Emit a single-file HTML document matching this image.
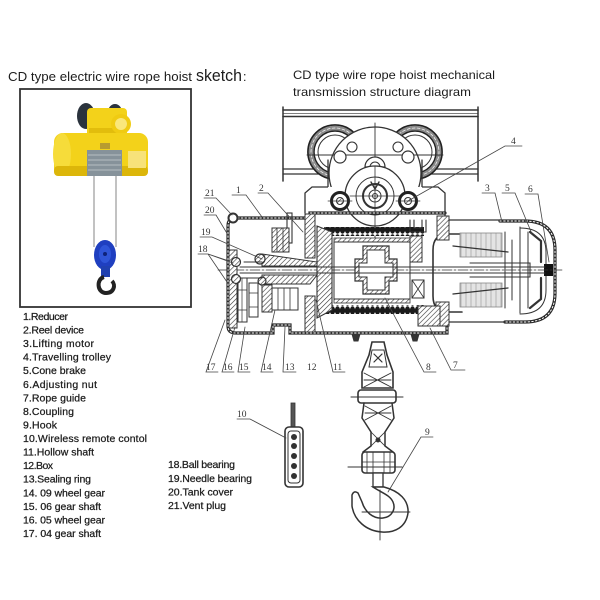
<!DOCTYPE html>
<html><head><meta charset="utf-8"><style>
html,body{margin:0;padding:0;background:#fff;}
svg{display:block;}
.t{font-family:"Liberation Sans",sans-serif;fill:#1c1c1c;}
.n{font-family:"Liberation Serif",serif;fill:#333;font-size:9.5px;}
</style></head><body>
<svg xmlns="http://www.w3.org/2000/svg" width="600" height="600" viewBox="0 0 600 600">
<defs>
 <pattern id="hatch" width="3.5" height="3.5" patternUnits="userSpaceOnUse" patternTransform="rotate(45)">
  <rect width="3.5" height="3.5" fill="#fff"/>
  <line x1="0" y1="0" x2="0" y2="3.5" stroke="#333" stroke-width="1.2"/>
 </pattern>
 <pattern id="coil" width="5" height="9" patternUnits="userSpaceOnUse">
  <rect width="5" height="9" fill="#fff"/>
  <ellipse cx="2.5" cy="4.5" rx="2.6" ry="4.2" fill="#1a1a1a"/>
 </pattern>
 <pattern id="stator" width="5" height="5" patternUnits="userSpaceOnUse">
  <rect width="5" height="5" fill="#e4e4e4"/>
  <line x1="1" y1="0" x2="1" y2="5" stroke="#a8a8a8" stroke-width="0.8"/>
 </pattern>
</defs>

<!-- LEFT TITLE -->
<text class="t" x="8" y="81" font-size="12.5" textLength="184" lengthAdjust="spacingAndGlyphs">CD type electric wire rope hoist</text>
<text class="t" x="196" y="81" font-size="17" textLength="46" lengthAdjust="spacingAndGlyphs">sketch</text>
<text class="t" x="243" y="81" font-size="12.5">:</text>

<!-- PHOTO BOX -->
<rect x="20" y="89" width="171" height="218" fill="#fff" stroke="#333" stroke-width="1.8"/>
<g>
 <line x1="94" y1="172" x2="94" y2="247" stroke="#9a9a9a" stroke-width="1.2"/>
 <line x1="116" y1="172" x2="116" y2="247" stroke="#9a9a9a" stroke-width="1.2"/>
 <ellipse cx="86" cy="116" rx="9" ry="13" fill="#2b333d"/>
 <ellipse cx="115" cy="112" rx="7" ry="8" fill="#2b333d"/>
 <rect x="87" y="108" width="40" height="34" rx="4" fill="#f3d21a"/>
 <rect x="89" y="128" width="36" height="10" fill="#e2bd0c"/>
 <circle cx="121" cy="124" r="10" fill="#f0cb12"/>
 <circle cx="121" cy="124" r="6" fill="#fae77a"/>
 <rect x="54" y="133" width="94" height="43" rx="9" fill="#f3d21a"/>
 <ellipse cx="62" cy="154" rx="9" ry="21" fill="#f6dc3a"/>
 <rect x="54" y="166" width="94" height="10" rx="4" fill="#dcb60a"/>
 <rect x="87" y="150" width="35" height="26" fill="#86929a"/>
 <path d="M88 155H121M88 160H121M88 165H121M88 170H121" stroke="#b5bec3" stroke-width="1"/>
 <rect x="128" y="151" width="18" height="17" fill="#f7e27a"/>
 <rect x="100" y="143" width="10" height="6" fill="#b89b30"/>
 <ellipse cx="105" cy="255" rx="11" ry="15" fill="#1f3fc0"/>
 <ellipse cx="105" cy="254" rx="6" ry="9" fill="#2f55d8"/>
 <circle cx="105" cy="254" r="2" fill="#0e237a"/>
 <rect x="101" y="266" width="9" height="11" fill="#2040b0"/>
 <path d="M104 277 C96 279 97 293 106 293 C114 293 116 285 112 281" fill="none" stroke="#222" stroke-width="4"/>
</g>

<!-- LEGEND -->
<g class="t" font-size="10.5" stroke="#1c1c1c" stroke-width="0.25">
 <text x="23" y="320" textLength="45" lengthAdjust="spacing">1.Reducer</text>
 <text x="23" y="333.6" textLength="61" lengthAdjust="spacing">2.Reel device</text>
 <text x="23" y="347.1" textLength="71" lengthAdjust="spacing">3.Lifting motor</text>
 <text x="23" y="360.7" textLength="88" lengthAdjust="spacing">4.Travelling trolley</text>
 <text x="23" y="374.2" textLength="63" lengthAdjust="spacing">5.Cone brake</text>
 <text x="23" y="387.8" textLength="74" lengthAdjust="spacing">6.Adjusting nut</text>
 <text x="23" y="401.4" textLength="63" lengthAdjust="spacing">7.Rope guide</text>
 <text x="23" y="414.9" textLength="51" lengthAdjust="spacing">8.Coupling</text>
 <text x="23" y="428.5" textLength="34" lengthAdjust="spacing">9.Hook</text>
 <text x="23" y="442" textLength="124" lengthAdjust="spacing">10.Wireless remote contol</text>
 <text x="23" y="455.6" textLength="71" lengthAdjust="spacing">11.Hollow shaft</text>
 <text x="23" y="469.2" textLength="30" lengthAdjust="spacing">12.Box</text>
 <text x="23" y="482.7" textLength="68" lengthAdjust="spacing">13.Sealing ring</text>
 <text x="23" y="496.3" textLength="82" lengthAdjust="spacing">14. 09 wheel gear</text>
 <text x="23" y="509.8" textLength="78" lengthAdjust="spacing">15. 06 gear shaft</text>
 <text x="23" y="523.4" textLength="82" lengthAdjust="spacing">16. 05 wheel gear</text>
 <text x="23" y="537" textLength="78" lengthAdjust="spacing">17. 04 gear shaft</text>
 <text x="168" y="468" textLength="67" lengthAdjust="spacing">18.Ball bearing</text>
 <text x="168" y="482" textLength="84" lengthAdjust="spacing">19.Needle bearing</text>
 <text x="168" y="495.5" textLength="65" lengthAdjust="spacing">20.Tank cover</text>
 <text x="168" y="509" textLength="58" lengthAdjust="spacing">21.Vent plug</text>
</g>

<!-- RIGHT TITLE -->
<text class="t" x="293" y="79" font-size="12" textLength="202" lengthAdjust="spacingAndGlyphs">CD type wire rope hoist mechanical</text>
<text class="t" x="293" y="96" font-size="12" textLength="178" lengthAdjust="spacingAndGlyphs">transmission structure diagram</text>

<!-- DIAGRAM -->
<g fill="none" stroke="#333" stroke-linecap="round">
 <!-- rail -->
 <path d="M283 107V181M478 107V181" stroke-width="1.5"/>
 <path d="M283 110H478M283 116.5H478" stroke-width="1.6"/>
 <path d="M283 113.3H478" stroke-width="0.7"/>
 <path d="M283 169H478M283 174H478" stroke-width="1.3"/>
 <!-- wheels -->
 <circle cx="335" cy="152" r="27" fill="#fff" stroke="#222" stroke-width="1.8"/>
 <circle cx="335" cy="152" r="24" stroke="#8a8a8a" stroke-width="4.5"/>
 <circle cx="335" cy="152" r="24" stroke="#fff" stroke-width="0.7" stroke-dasharray="3 2"/>
 <circle cx="335" cy="152" r="21" stroke="#222" stroke-width="1.5"/>
 <circle cx="335" cy="152" r="17" stroke-width="1"/>
 <circle cx="415" cy="152" r="27" fill="#fff" stroke="#222" stroke-width="1.8"/>
 <circle cx="415" cy="152" r="24" stroke="#8a8a8a" stroke-width="4.5"/>
 <circle cx="415" cy="152" r="24" stroke="#fff" stroke-width="0.7" stroke-dasharray="3 2"/>
 <circle cx="415" cy="152" r="21" stroke="#222" stroke-width="1.5"/>
 <circle cx="415" cy="152" r="17" stroke-width="1"/>
 <!-- trolley plate -->
 <circle cx="375" cy="173" r="46" fill="#fff" stroke-width="1.3"/>
 <path d="M305 213V193L312 187H328V160M445 213V193L438 187H422V160" stroke-width="1.3" fill="none"/>
 <path d="M328 187H422V213H328Z" fill="#fff" stroke="none"/>
 <path d="M307 155H443" stroke-width="0.9"/>
 <path d="M375 123V240" stroke-width="0.9"/>
 <circle cx="340" cy="157" r="6" fill="#fff" stroke-width="1.2"/>
 <circle cx="352" cy="147" r="5" stroke-width="1.1"/>
 <circle cx="408" cy="157" r="6" fill="#fff" stroke-width="1.2"/>
 <circle cx="398" cy="147" r="5" stroke-width="1.1"/>
 <path d="M365 167A10 10 0 0 1 385 167Z" stroke-width="1.2" fill="#fff"/>
 <path d="M370 167A5 5 0 0 1 380 167" stroke-width="1"/>
 <circle cx="375" cy="196" r="30" fill="#fff" stroke-width="1.3"/>
 <circle cx="375" cy="196" r="19" stroke-width="1"/>
 <circle cx="375" cy="196" r="12" stroke-width="2"/>
 <circle cx="375" cy="196" r="6" stroke-width="1"/>
 <circle cx="375" cy="196" r="2.5" stroke-width="1"/>
 <path d="M350 196H400M375 166V226" stroke-width="0.8"/>
 <path d="M371 182L375 189L379 182" stroke-width="1.4"/>
 <circle cx="340" cy="201" r="8.5" fill="#fff" stroke="#222" stroke-width="3"/>
 <circle cx="340" cy="201" r="3.5" fill="url(#hatch)" stroke-width="1"/>
 <circle cx="408" cy="201" r="8.5" fill="#fff" stroke="#222" stroke-width="3"/>
 <circle cx="408" cy="201" r="3.5" fill="url(#hatch)" stroke-width="1"/>
 <path d="M328 201H352M396 201H420" stroke-width="0.8"/>

 <!-- housing walls -->
 <path d="M445 213H310V218H236Q228 218 228 226V326Q228 333 236 333H273V325H290V333H447V322" stroke="#2a2a2a" stroke-width="3.2"/>
 <path d="M445 213H310V218H236Q228 218 228 226V326Q228 333 236 333H273V325H290V333H447V322" stroke="#fff" stroke-width="1" stroke-dasharray="1.5 2.2"/>
 <circle cx="233" cy="218" r="4.5" fill="#fff" stroke-width="2"/>
 <!-- motor shell -->
 <path d="M445 213V220H500" stroke-width="1.3"/>
 <path d="M500 221H525Q555 221 555 250V293Q555 322 525 322H505" stroke="#2a2a2a" stroke-width="3.2"/>
 <path d="M500 221H525Q555 221 555 250V293Q555 322 525 322H505" stroke="#fff" stroke-width="1" stroke-dasharray="1.5 2.2"/>
 <path d="M505 322H447" stroke-width="1.3"/>
 <path d="M520 228Q546 228 546 252V290Q546 314 520 314" stroke-width="1"/>
 <path d="M462 234H448Q433 234 433 250V296Q433 312 448 312H462" stroke-width="1.6"/>
 <!-- flange hatches -->
 <rect x="437" y="216" width="12" height="24" fill="url(#hatch)" stroke-width="1"/>
 <rect x="436" y="302" width="13" height="24" fill="url(#hatch)" stroke-width="1"/>
 <!-- stator -->
 <rect x="460" y="233" width="42" height="24" fill="url(#stator)" stroke="#888" stroke-width="0.8"/>
 <rect x="460" y="283" width="42" height="24" fill="url(#stator)" stroke="#888" stroke-width="0.8"/>
 <path d="M453 246L508 252M453 294L508 288" stroke-width="1.3"/>
 <path d="M505 232V308M512 240V300M520 227V313M528 232V308" stroke-width="1"/>
 <path d="M530 232L541 241V262M530 308L541 299V278" stroke-width="2.2"/>
 <rect x="544" y="264" width="9" height="12" fill="#111" stroke="none"/>
 <!-- shaft -->
 <path d="M470 263H530V277H470" stroke-width="1.1"/>
 <path d="M218 270H562" stroke-width="0.7" stroke-dasharray="10 2 2 2"/>

 <!-- drum -->
 <rect x="324" y="227" width="100" height="9" fill="url(#coil)" stroke="none"/>
 <rect x="324" y="305" width="100" height="9" fill="url(#coil)" stroke="none"/>
 <rect x="334" y="238" width="76" height="4" fill="url(#hatch)" stroke-width="0.8"/>
 <rect x="334" y="299" width="76" height="4" fill="url(#hatch)" stroke-width="0.8"/>
 <rect x="334" y="242" width="76" height="57" stroke-width="1"/>
 <path d="M317 226L332 232V310L317 318Z" fill="url(#hatch)" stroke-width="1.1"/>
 <rect x="410" y="236" width="12" height="26" fill="url(#hatch)" stroke-width="1"/>
 <rect x="412" y="280" width="12" height="18" stroke-width="1"/>
 <path d="M412 280L424 298M424 280L412 298" stroke-width="0.8"/>
 <path d="M410 220V232H426V220M414 220V228H422V220" stroke-width="1.1"/>
 <path d="M418 306H440V326H418Z" fill="url(#hatch)" stroke-width="1"/>
 <!-- coupling -->
 <path d="M363 246H389V259H397V281H389V294H363V281H355V259H363Z" fill="url(#hatch)" stroke-width="1.2"/>
 <path d="M367 250H385V263H393V277H385V290H367V277H359V263H367Z" fill="#fff" stroke-width="1"/>
 <path d="M240 267H545M240 273H545" stroke-width="1"/>
 <!-- left gear structure -->
 <rect x="287" y="213" width="5" height="30" stroke-width="1.1"/>
 <rect x="305" y="214" width="10" height="44" fill="url(#hatch)" stroke-width="1"/>
 <rect x="272" y="228" width="17" height="24" fill="url(#hatch)" stroke-width="1"/>
 <path d="M277 228V252M283 228V252" stroke-width="0.8"/>
 <path d="M262 254L317 262V266H262Z" fill="url(#hatch)" stroke-width="1"/>
 <path d="M262 275H317L310 284H262Z" fill="url(#hatch)" stroke-width="1"/>
 <rect x="262" y="285" width="10" height="27" fill="url(#hatch)" stroke-width="1"/>
 <rect x="272" y="288" width="26" height="22" stroke-width="1"/>
 <path d="M278 288V310M284 288V310M290 288V310" stroke-width="0.8"/>
 <rect x="305" y="296" width="10" height="36" fill="url(#hatch)" stroke-width="1"/>
 <rect x="229" y="250" width="8" height="78" fill="url(#hatch)" stroke-width="1"/>
 <rect x="238" y="278" width="9" height="44" stroke-width="1"/>
 <path d="M242 278V322M238 290H247M238 310H247" stroke-width="0.7"/>
 <rect x="249" y="283" width="9" height="34" stroke-width="1"/>
 <path d="M249 293H258M249 307H258" stroke-width="0.7"/>
 <circle cx="236" cy="262" r="4.5" fill="url(#hatch)" stroke-width="1.2"/>
 <circle cx="236" cy="279" r="4.5" fill="url(#hatch)" stroke-width="1.2"/>
 <circle cx="260" cy="259" r="5" fill="url(#hatch)" stroke-width="1.2"/>
 <circle cx="262" cy="281" r="4" fill="url(#hatch)" stroke-width="1.2"/>
 <path d="M244 262H262M244 278H262" stroke-width="1"/>
 <!-- feet -->
 <path d="M352 334H360L358 341H354Z" fill="#333" stroke-width="1"/>
 <path d="M411 334H419L417 341H413Z" fill="#333" stroke-width="1"/>

 <!-- hook block -->
 <path d="M372 342H384L387 355L393 372V388H362V372L369 355Z" fill="#fff" stroke-width="1.6"/>
 <path d="M372 350H384L387 367H369Z" stroke-width="1"/>
 <path d="M374 354L382 362M382 354L374 362" stroke-width="1.2"/>
 <path d="M364 373L391 387M391 373L364 387M364 380L391 380" stroke-width="0.9"/>
 <rect x="358" y="390" width="38" height="13" rx="3" fill="#fff" stroke-width="1.6"/>
 <path d="M351 397H403" stroke-width="1.1"/>
 <path d="M364 403L362 418L371 432V446L363 452M392 403L394 418L385 432V446L393 452" stroke-width="1.5"/>
 <path d="M365 406L391 420M391 406L365 420M365 413H391" stroke-width="0.9"/>
 <path d="M371 432L385 446M385 432L371 446" stroke-width="0.8"/>
 <circle cx="378" cy="440" r="2.5" fill="#333" stroke="none"/>
 <rect x="362" y="452" width="33" height="21" rx="3" fill="#fff" stroke-width="1.6"/>
 <path d="M367 452V473M373 452V473M384 452V473M390 452V473M362 462H395" stroke-width="0.8"/>
 <path d="M348 467H402" stroke-width="1.1"/>
 <rect x="373" y="473" width="10" height="14" fill="#fff" stroke-width="1.3"/>
 <path d="M384 487C399 491 409 500 408 513C406 527 395 533 382 532C366 531 354 520 352 506L352 495Q354 490 358 493L362 502C365 512 373 519 383 518C392 517 396 509 393 502C390 495 382 493 373 487Z" fill="#fff" stroke-width="1.5"/>
 <path d="M362 512H410M380 490V540" stroke-width="0.9"/>

 <!-- remote -->
 <rect x="291" y="403" width="4" height="25" fill="#555" stroke-width="0.8"/>
 <rect x="285" y="427" width="18" height="60" rx="4" fill="#fff" stroke-width="1.6"/>
 <rect x="288" y="431" width="12" height="52" rx="3" stroke-width="1"/>
 <g fill="#333" stroke="none">
  <circle cx="294" cy="437" r="3"/><circle cx="294" cy="446" r="3"/><circle cx="294" cy="456" r="3"/><circle cx="294" cy="466" r="3"/><circle cx="294" cy="476" r="3"/>
 </g>

 <!-- leader lines -->
 <g stroke-width="0.8" stroke="#444">
  <path d="M204 198H216L232 215"/>
  <path d="M204 215H216L228 235"/>
  <path d="M200 237H212L262 259"/>
  <path d="M198 254H208L229 261M208 254L233 263M208 254L227 282"/>
  <path d="M232 195H246L262 217"/>
  <path d="M258 193H268L303 232"/>
  <path d="M522 146H505L408 201"/>
  <path d="M482 193H495L502 222"/>
  <path d="M502 193H515L532 234"/>
  <path d="M525 194H538L549 262"/>
  <path d="M218 372H206L225 320"/>
  <path d="M234 372H222L235 327"/>
  <path d="M250 372H238L245 327"/>
  <path d="M273 372H261L275 310"/>
  <path d="M296 372H283L285 327"/>
  <path d="M345 372H333L316 300"/>
  <path d="M436 372H424L385 298"/>
  <path d="M465 370H451L430 328"/>
  <path d="M237 419H250L286 438"/>
  <path d="M433 437H421L388 492"/>
 </g>
</g>
<g class="n">
 <text x="205" y="196">21</text>
 <text x="205" y="213">20</text>
 <text x="201" y="235">19</text>
 <text x="198" y="252">18</text>
 <text x="236" y="193">1</text>
 <text x="259" y="191">2</text>
 <text x="511" y="144">4</text>
 <text x="485" y="191">3</text>
 <text x="505" y="191">5</text>
 <text x="528" y="192">6</text>
 <text x="206" y="370">17</text>
 <text x="223" y="370">16</text>
 <text x="239" y="370">15</text>
 <text x="262" y="370">14</text>
 <text x="285" y="370">13</text>
 <text x="307" y="370">12</text>
 <text x="333" y="370">11</text>
 <text x="426" y="370">8</text>
 <text x="453" y="368">7</text>
 <text x="237" y="417">10</text>
 <text x="425" y="435">9</text>
</g>
</svg>
</body></html>
